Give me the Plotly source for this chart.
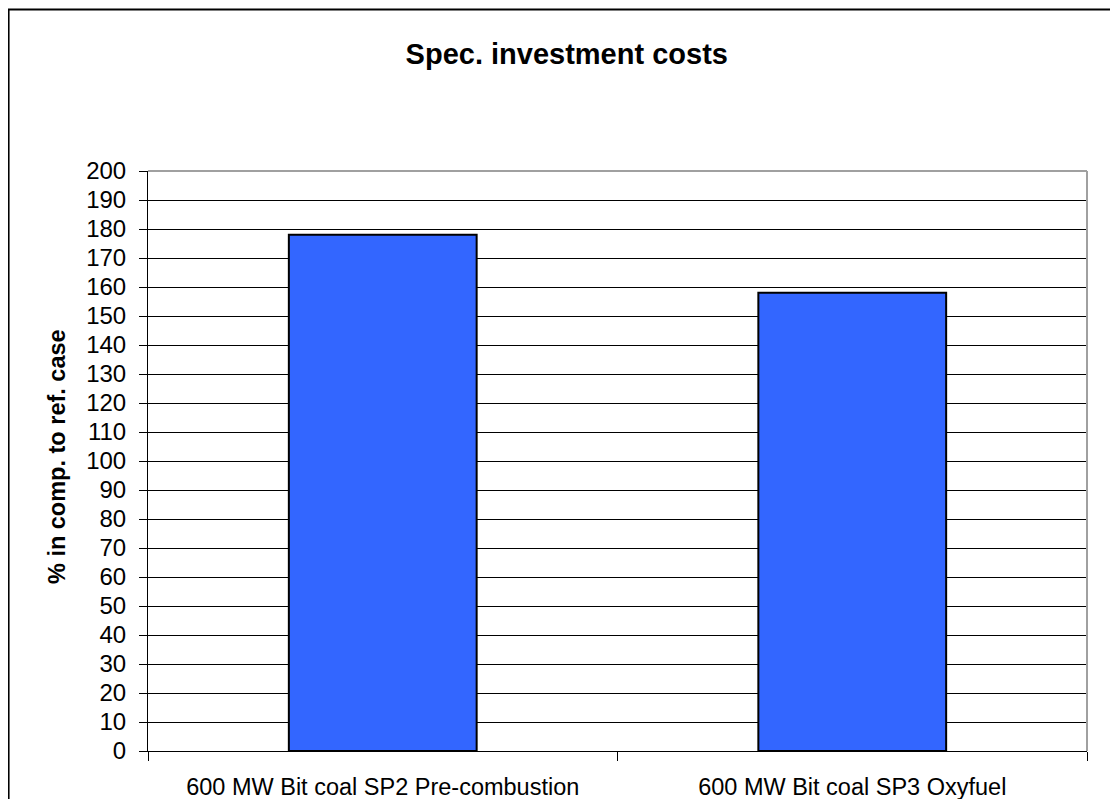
import plotly.graph_objects as go

categories = ["600 MW Bit coal SP2 Pre-combustion", "600 MW Bit coal SP3 Oxyfuel"]
values = [178, 158]
y_tickvals = list(range(0, 201, 10))

OFF = 8  # page body margin offset
W, H = 1118 - 2 * OFF, 807 - 2 * OFF  # fit inside the window without scrollbars
# target screen positions of the plot area
SL, SR, ST, SB = 148, 1087.5, 171, 751
L, T = SL - OFF, ST - OFF
R = W - (SR - OFF)
B = H - (SB - OFF)
pw, ph = W - L - R, H - T - B

def px_x(p):  # screen px -> paper x
    return (p - OFF - L) / pw

def px_y(p):  # screen px -> paper y
    return (H - B - (p - OFF)) / ph

FONT = "Arial, Liberation Sans, sans-serif"

fig = go.Figure()
fig.add_trace(go.Bar(
    x=categories, y=values, width=0.4,
    marker=dict(color="#3366FF", line=dict(color="black", width=2)),
    showlegend=False,
))

fig.update_layout(
    width=W, height=H,
    margin=dict(l=L, r=R, t=T, b=B, autoexpand=False),
    paper_bgcolor="white", plot_bgcolor="white",
    font=dict(family=FONT, color="black"),
    title=dict(text="<b>Spec. investment costs</b>", x=px_x(567), xref="paper",
               xanchor="center", y=1 - (54 - OFF) / H, yref="container", yanchor="middle",
               font=dict(size=29, color="black", family=FONT)),
)
fig.update_xaxes(
    type="category", showline=True, linecolor="black", linewidth=1,
    ticks="outside", ticklen=9, tickcolor="black", tickwidth=1,
    tickson="boundaries", showgrid=False, zeroline=False,
    tickfont=dict(size=23.5, family=FONT, color="black"), ticklabelstandoff=15,
)
fig.update_yaxes(
    range=[0, 200], tickvals=y_tickvals, ticktext=[str(v) for v in y_tickvals],
    showline=True, linecolor="black", linewidth=1,
    ticks="outside", ticklen=8, tickcolor="black",
    showgrid=True, gridcolor="black", gridwidth=1, zeroline=False,
    tickfont=dict(size=24, family=FONT, color="black"), ticklabelstandoff=8,
)
fig.add_annotation(
    text="<b>% in comp. to ref. case</b>", textangle=-90,
    x=px_x(57), y=px_y(457), xref="paper", yref="paper",
    showarrow=False, xanchor="center", yanchor="middle",
    font=dict(size=23.5, family=FONT, color="black"),
)
# plot-area top and right border (gray)
fig.add_shape(type="line", xref="paper", yref="paper", x0=0, x1=1, y0=1, y1=1,
              line=dict(color="#A0A0A0", width=2), layer="above")
fig.add_shape(type="line", xref="paper", yref="paper", x0=1, x1=1, y0=0, y1=1,
              line=dict(color="#A0A0A0", width=2), layer="above")
# outer chart border: only top and left edges are in view
fig.add_shape(type="line", xref="paper", yref="paper",
              x0=px_x(7.5), x1=px_x(1118), y0=px_y(9.5), y1=px_y(9.5),
              line=dict(color="black", width=2), layer="above")
fig.add_shape(type="line", xref="paper", yref="paper",
              x0=px_x(8.5), x1=px_x(8.5), y0=px_y(9.5), y1=px_y(807),
              line=dict(color="black", width=2), layer="above")

fig.write_html("out.html")
